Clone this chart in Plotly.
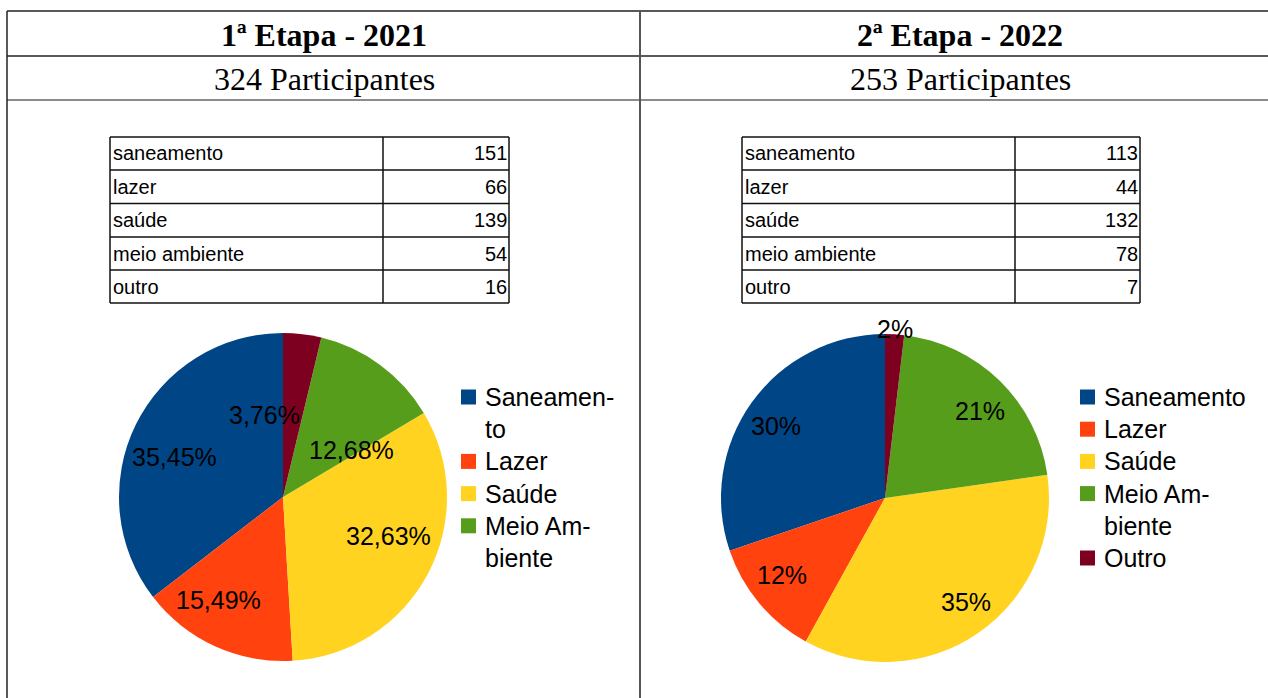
import math
import plotly.graph_objects as go

W, H = 1268, 698

# ---------------- data ----------------
categories = ["saneamento", "lazer", "saúde", "meio ambiente", "outro"]
slice_labels = ["Saneamento", "Lazer", "Saúde", "Meio Ambiente", "Outro"]
legend1_labels = ["Saneamen-<br>to", "Lazer", "Saúde", "Meio Am-<br>biente"]
legend2_labels = ["Saneamento", "Lazer", "Saúde", "Meio Am-<br>biente", "Outro"]
values_2021 = [151, 66, 139, 54, 16]
values_2022 = [113, 44, 132, 78, 7]
titles = ["1ª Etapa - 2021", "2ª Etapa - 2022"]
subtitles = ["324 Participantes", "253 Participantes"]

# ---------------- style ----------------
colors = ["#004586", "#ff420e", "#ffd320", "#579d1c", "#7e0021"]
SANS = "Liberation Sans, Arial, sans-serif"
SERIF = "Liberation Serif, Times New Roman, serif"
NARROW = "Liberation Sans Narrow, Arial Narrow, Liberation Sans, sans-serif"


def fx(x):
    return x / W


def fy(y):
    return 1 - y / H


shapes = []
annotations = []


def line(x0, y0, x1, y1, color="#1a1a1a", width=1.5):
    shapes.append(dict(type="line", xref="paper", yref="paper",
                       x0=fx(x0), y0=fy(y0), x1=fx(x1), y1=fy(y1),
                       line=dict(color=color, width=width)))


def text(x, y, s, size, family, xanchor="center", yanchor="middle", color="black"):
    annotations.append(dict(xref="paper", yref="paper", x=fx(x), y=fy(y), text=s,
                            showarrow=False, xanchor=xanchor, yanchor=yanchor,
                            font=dict(size=size, family=family, color=color),
                            borderpad=0))


# ---------------- outer frame ----------------
line(7, 11, W, 11, "#222", 1.5)
line(7, 56, W, 56, "#222", 1.5)
line(7, 100, W, 100, "#666", 1.5)
line(7, 11, 7, H, "#222", 1.5)
line(640, 11, 640, H, "#555", 2)

col_centers = [324, 960]
for cxh, t, st in zip(col_centers, titles, subtitles):
    text(cxh, 35, "<b>" + t + "</b>", 32, SERIF)
    text(cxh, 78.5, st, 32, SERIF)

# ---------------- data tables ----------------
tables = [
    dict(x0=110, xm=383, x1=509, vals=values_2021),
    dict(x0=742, xm=1015, x1=1140, vals=values_2022),
]
row_edges = [137, 170, 203.5, 237, 270, 303]
for tb in tables:
    for ye in row_edges:
        line(tb["x0"], ye, tb["x1"], ye, "#111", 1.5)
    for xe in (tb["x0"], tb["xm"], tb["x1"]):
        line(xe, row_edges[0], xe, row_edges[-1], "#111", 1.5)
    for i, (name, v) in enumerate(zip(categories, tb["vals"])):
        yc = (row_edges[i] + row_edges[i + 1]) / 2
        text(tb["x0"] + 2, yc, name, 20, NARROW, xanchor="left")
        text(tb["x1"] - 1, yc, str(v), 20, NARROW, xanchor="right")

# ---------------- pies ----------------
pies = [
    dict(vals=values_2021, cx=283, cy=497, r=164, fmt="{:.2f}",
         rf=[0.70, 0.75, 0.69, 0.50, 0.50], da=[6.8, -6.9, 6.6, -20.6, 20.0]),
    dict(vals=values_2022, cx=885, cy=498, r=164, fmt="{:.0f}",
         rf=[0.79, 0.79, 0.81, 0.78, 1.02], da=[3.0, -2.5, 2.7, -4.0, 0.0]),
]

fig = go.Figure()
for p in pies:
    cx, cy, r = p["cx"], p["cy"], p["r"]
    total = sum(p["vals"])
    # plotly's counterclockwise layout ends the first slice at `rotation`;
    # shift so that the first slice starts at 12 o'clock
    rot = -360.0 * p["vals"][0] / total
    fig.add_trace(go.Pie(
        labels=slice_labels, values=p["vals"], sort=False,
        direction="counterclockwise", rotation=rot,
        marker=dict(colors=colors, line=dict(width=0)),
        textinfo="none", showlegend=False,
        domain=dict(x=[fx(cx - r), fx(cx + r)], y=[fy(cy + r), fy(cy - r)]),
    ))
    cum = 0
    for v, f, d in zip(p["vals"], p["rf"], p["da"]):
        mid = (cum + v / 2) / total * 360 + d
        cum += v
        a = math.radians(mid)
        lx = cx - f * r * math.sin(a)
        ly = cy - f * r * math.cos(a) - 2
        pct = p["fmt"].format(v / total * 100).replace(".", ",") + "%"
        text(lx, ly, pct, 25, SANS)

# ---------------- legends ----------------
legends = [
    dict(labels=legend1_labels, sq_x=461, tx=484, y0=397),
    dict(labels=legend2_labels, sq_x=1080, tx=1103, y0=397),
]
pitch = 32.2
for lg in legends:
    yline = lg["y0"]
    for lab, col in zip(lg["labels"], colors):
        shapes.append(dict(type="rect", xref="paper", yref="paper",
                           x0=fx(lg["sq_x"]), x1=fx(lg["sq_x"] + 15),
                           y0=fy(yline + 7.5), y1=fy(yline - 7.5),
                           fillcolor=col, line=dict(width=0)))
        for part in lab.split("<br>"):
            text(lg["tx"], yline, part, 25, SANS, xanchor="left")
            yline += pitch

fig.update_layout(
    width=W, height=H, margin=dict(l=0, r=0, t=0, b=0),
    paper_bgcolor="white", plot_bgcolor="white",
    shapes=shapes, annotations=annotations,
)

fig.write_html("out.html", config={"displayModeBar": False},
               post_script="document.body.style.margin='0';document.body.style.overflow='hidden';")
